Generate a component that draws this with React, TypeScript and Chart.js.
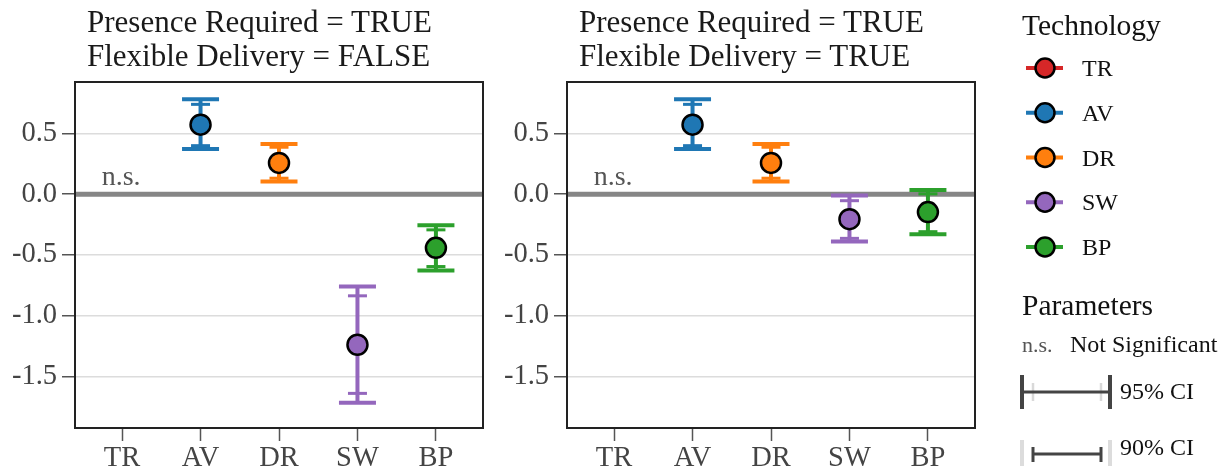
import React, { useEffect, useRef } from "react";
import { Chart, registerables } from "chart.js";

Chart.register(...registerables);

const FONT = '"Liberation Serif", "Times New Roman", serif';

const categories = ["TR", "AV", "DR", "SW", "BP"];
const techColors = ["#d62728", "#1f77b4", "#ff7f0e", "#9467bd", "#2ca02c"];
const yTickValues = [0.5, 0, -0.5, -1, -1.5];
const yMin = -1.925;
const yMax = 0.923;

// Panel 1: Presence Required = TRUE, Flexible Delivery = FALSE
const p1Estimate = [null, 0.572, 0.257, -1.24, -0.442];
const p1Low95 = [null, 0.372, 0.103, -1.717, -0.629];
const p1High95 = [null, 0.78, 0.413, -0.761, -0.256];
const p1Low90 = [null, 0.399, 0.131, -1.64, -0.596];
const p1High90 = [null, 0.739, 0.386, -0.837, -0.294];
const p1Significant = [false, true, true, true, true];

// Panel 2: Presence Required = TRUE, Flexible Delivery = TRUE
const p2Estimate = [null, 0.572, 0.257, -0.206, -0.148];
const p2Low95 = [null, 0.372, 0.103, -0.39, -0.331];
const p2High95 = [null, 0.78, 0.413, -0.012, 0.034];
const p2Low90 = [null, 0.399, 0.131, -0.364, -0.309];
const p2High90 = [null, 0.739, 0.386, -0.054, 0.002];
const p2Significant = [false, true, true, true, true];

type PanelData = {
  title: string[];
  est: (number | null)[];
  lo95: (number | null)[];
  hi95: (number | null)[];
  lo90: (number | null)[];
  hi90: (number | null)[];
  sig: boolean[];
};

const panels: PanelData[] = [
  {
    title: ["Presence Required = TRUE", "Flexible Delivery = FALSE"],
    est: p1Estimate, lo95: p1Low95, hi95: p1High95, lo90: p1Low90, hi90: p1High90, sig: p1Significant,
  },
  {
    title: ["Presence Required = TRUE", "Flexible Delivery = TRUE"],
    est: p2Estimate, lo95: p2Low95, hi95: p2High95, lo90: p2Low90, hi90: p2High90, sig: p2Significant,
  },
];

function makeDeco(p: PanelData) {
  return {
    id: "deco",
    beforeDatasetsDraw(chart: any) {
      const { ctx, chartArea: a, scales } = chart;
      const xs = scales.x;
      const ys = scales.y;
      ctx.save();
      const y0 = ys.getPixelForValue(0);
      ctx.strokeStyle = "#868686";
      ctx.lineWidth = 5;
      ctx.beginPath();
      ctx.moveTo(a.left, y0);
      ctx.lineTo(a.right, y0);
      ctx.stroke();

      const seg = (x1: number, y1: number, x2: number, y2: number) => {
        ctx.beginPath();
        ctx.moveTo(x1, y1);
        ctx.lineTo(x2, y2);
        ctx.stroke();
      };
      categories.forEach((_, i) => {
        if (p.est[i] == null) return;
        const px = xs.getPixelForValue(i);
        const h95 = ys.getPixelForValue(p.hi95[i] as number);
        const l95 = ys.getPixelForValue(p.lo95[i] as number);
        const h90 = ys.getPixelForValue(p.hi90[i] as number);
        const l90 = ys.getPixelForValue(p.lo90[i] as number);
        ctx.strokeStyle = techColors[i];
        ctx.lineCap = "butt";
        ctx.lineWidth = 4;
        seg(px, h95, px, l95);
        seg(px - 18.5, h95, px + 18.5, h95);
        seg(px - 18.5, l95, px + 18.5, l95);
        ctx.lineWidth = 3;
        seg(px - 9.5, h90, px + 9.5, h90);
        seg(px - 9.5, l90, px + 9.5, l90);
      });

      ctx.fillStyle = "#555";
      ctx.font = `28px ${FONT}`;
      ctx.textAlign = "center";
      ctx.textBaseline = "alphabetic";
      p.sig.forEach((s, i) => {
        if (!s) ctx.fillText("n.s.", xs.getPixelForValue(i) - 1, y0 - 9);
      });
      ctx.restore();
    },
    afterDraw(chart: any) {
      const { ctx, chartArea: a } = chart;
      ctx.save();
      ctx.strokeStyle = "#222";
      ctx.lineWidth = 2;
      ctx.strokeRect(a.left, a.top, a.right - a.left, a.bottom - a.top);
      ctx.restore();
    },
  };
}

function Panel({ left, p }: { left: number; p: PanelData }) {
  const ref = useRef<HTMLCanvasElement>(null);
  useEffect(() => {
    const points: any[] = [];
    const pointColors: string[] = [];
    p.est.forEach((v, i) => {
      if (v != null) {
        points.push({ x: i, y: v });
        pointColors.push(techColors[i]);
      }
    });
    const chart = new Chart(ref.current as HTMLCanvasElement, {
      type: "scatter",
      data: {
        datasets: [
          {
            data: points,
            pointRadius: 10,
            pointHoverRadius: 10,
            pointBorderWidth: 2.5,
            pointBorderColor: "#000",
            pointBackgroundColor: pointColors,
          } as any,
        ],
      },
      options: {
        animation: false,
        responsive: false,
        devicePixelRatio: 1,
        events: [],
        layout: { padding: { left: 0, top: 82, right: 17, bottom: 0 } },
        plugins: {
          legend: { display: false },
          tooltip: { enabled: false },
          title: { display: false },
        },
        scales: {
          x: {
            type: "linear",
            min: -0.6,
            max: 4.6,
            afterBuildTicks: (s: any) => {
              s.ticks = categories.map((_, i) => ({ value: i }));
            },
            afterFit: (s: any) => {
              s.height = 44;
            },
            grid: {
              drawOnChartArea: false,
              drawTicks: true,
              tickLength: 13,
              tickColor: "#555",
              tickWidth: 1.5,
            },
            border: { display: false },
            ticks: {
              callback: (v: any) => categories[Number(v)],
              font: { family: FONT, size: 28.5 },
              color: "#444",
              padding: 0,
              maxRotation: 0,
              autoSkip: false,
            },
          },
          y: {
            type: "linear",
            min: yMin,
            max: yMax,
            afterBuildTicks: (s: any) => {
              s.ticks = yTickValues.map((v) => ({ value: v }));
            },
            afterFit: (s: any) => {
              s.width = 75;
            },
            grid: {
              color: "#dcdcdc",
              lineWidth: 1.5,
              drawTicks: true,
              tickLength: 13,
              tickColor: "#555",
              tickWidth: 1.5,
            },
            border: { display: false },
            ticks: {
              callback: (v: any) => Number(v).toFixed(1),
              font: { family: FONT, size: 28.5 },
              color: "#444",
              padding: 5,
              autoSkip: false,
            },
          },
        },
      } as any,
      plugins: [makeDeco(p) as any],
    });
    return () => chart.destroy();
  }, []);
  return (
    <>
      <canvas
        ref={ref}
        width={500}
        height={472}
        style={{ position: "absolute", left, top: 0, width: 500, height: 472 }}
      />
      <div
        style={{
          position: "absolute",
          left: left + 87,
          top: 5,
          fontFamily: FONT,
          fontSize: 31,
          lineHeight: "33.5px",
          color: "#1a1a1a",
          whiteSpace: "pre",
        }}
      >
        {p.title.join("\n")}
      </div>
    </>
  );
}

function Legend() {
  const ox = 1000;
  const rows = categories.map((c, i) => ({ c, col: techColors[i], cy: 68 + i * 44.75 }));
  return (
    <svg
      width={232}
      height={472}
      style={{ position: "absolute", left: ox, top: 0 }}
      fontFamily={FONT}
    >
      <text x={22} y={35} fontSize={29.5} fill="#111">Technology</text>
      {rows.map((r) => (
        <g key={r.c}>
          <line x1={26} x2={63} y1={r.cy} y2={r.cy} stroke={r.col} strokeWidth={4} />
          <circle cx={45} cy={r.cy} r={9.5} fill={r.col} stroke="#000" strokeWidth={2.5} />
          <text x={82} y={r.cy + 8} fontSize={24} fill="#111">{r.c}</text>
        </g>
      ))}
      <text x={22} y={315} fontSize={29.5} fill="#111">Parameters</text>
      <text x={22} y={352} fontSize={22} fill="#555">n.s.</text>
      <text x={70} y={352} fontSize={24} fill="#111">Not Significant</text>

      <line x1={33} x2={33} y1={383} y2={401} stroke="#d9d9d9" strokeWidth={2.5} />
      <line x1={101} x2={101} y1={383} y2={401} stroke="#d9d9d9" strokeWidth={2.5} />
      <line x1={22} x2={110} y1={392} y2={392} stroke="#444" strokeWidth={3} />
      <line x1={22} x2={22} y1={375} y2={409} stroke="#444" strokeWidth={4} />
      <line x1={110} x2={110} y1={375} y2={409} stroke="#444" strokeWidth={4} />
      <text x={120} y={399} fontSize={24} fill="#111">95% CI</text>

      <line x1={22} x2={22} y1={440} y2={466} stroke="#dcdcdc" strokeWidth={4} />
      <line x1={110} x2={110} y1={440} y2={466} stroke="#dcdcdc" strokeWidth={4} />
      <line x1={33} x2={101} y1={454} y2={454} stroke="#444" strokeWidth={3} />
      <line x1={33} x2={33} y1={447} y2={462} stroke="#444" strokeWidth={3} />
      <line x1={101} x2={101} y1={447} y2={462} stroke="#444" strokeWidth={3} />
      <text x={120} y={455} fontSize={24} fill="#111">90% CI</text>
    </svg>
  );
}

export default function App() {
  return (
    <div
      style={{
        position: "absolute",
        left: 0,
        top: 0,
        width: 1232,
        height: 472,
        background: "#fff",
        overflow: "hidden",
      }}
    >
      <Panel left={0} p={panels[0]} />
      <Panel left={492} p={panels[1]} />
      <Legend />
    </div>
  );
}
